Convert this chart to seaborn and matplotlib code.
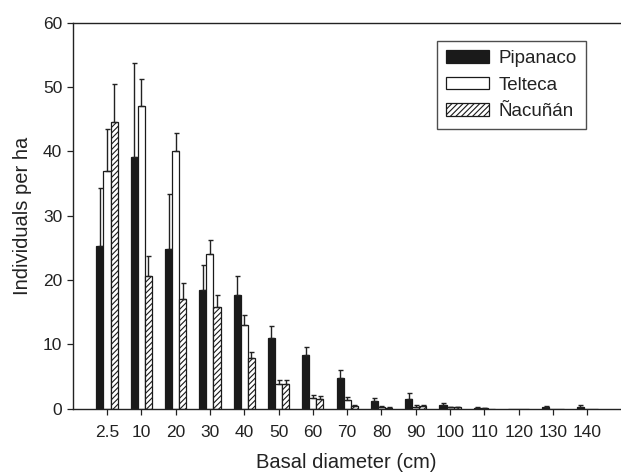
import numpy as np
import pandas as pd
import matplotlib
matplotlib.use("Agg")
import matplotlib.pyplot as plt
import seaborn as sns

# Diameter classes (cm)
categories = ['2.5', '10', '20', '30', '40', '50', '60', '70', '80', '90',
              '100', '110', '120', '130', '140']

# Individuals per ha by site (mean) and upper error
pipanaco = [25.3, 39.1, 24.8, 18.4, 17.6, 11.0, 8.3, 4.8, 1.2, 1.55, 0.5, 0.1, 0.0, 0.3, 0.3]
pipanaco_err = [9.0, 14.7, 8.6, 3.9, 3.1, 1.8, 1.3, 1.2, 0.5, 0.85, 0.4, 0.1, 0.0, 0.1, 0.3]
telteca = [37.0, 47.0, 40.0, 24.1, 13.0, 3.8, 1.7, 1.35, 0.3, 0.3, 0.2, 0.1, 0.0, 0.0, 0.0]
telteca_err = [6.5, 4.2, 2.8, 2.1, 1.5, 0.7, 0.5, 0.45, 0.1, 0.2, 0.1, 0.05, 0.0, 0.0, 0.0]
nacunan = [44.5, 20.7, 17.1, 15.8, 7.9, 3.8, 1.55, 0.4, 0.15, 0.4, 0.2, 0.0, 0.0, 0.0, 0.0]
nacunan_err = [6.0, 3.1, 2.5, 1.8, 0.9, 0.7, 0.45, 0.2, 0.05, 0.2, 0.05, 0.0, 0.0, 0.0, 0.0]

sites = ['Pipanaco', 'Telteca', 'Ñacuñán']

df = pd.DataFrame({
    'diameter': categories * 3,
    'site': np.repeat(sites, len(categories)),
    'value': pipanaco + telteca + nacunan,
})

sns.set_theme(style="ticks")
plt.rcParams['font.family'] = ['Liberation Sans', 'DejaVu Sans']
plt.rcParams['hatch.linewidth'] = 0.8
plt.rcParams['text.color'] = '#222222'
plt.rcParams['axes.labelcolor'] = '#222222'
plt.rcParams['xtick.color'] = '#222222'
plt.rcParams['ytick.color'] = '#222222'

fig = plt.figure(figsize=(6.21, 4.74), dpi=100)
ax = fig.add_axes([0.117, 0.1378, 0.8813, 0.8143])

sns.barplot(data=df, x='diameter', y='value', hue='site', order=categories,
            hue_order=sites, palette=['#1a1a1a', 'white', 'white'],
            width=0.62, gap=0, errorbar=None, edgecolor='#1a1a1a',
            linewidth=0.9, legend=False, ax=ax)

bars = list(ax.containers)
for p in bars[2].patches:
    p.set_hatch('//////')

# one-sided (upper) error bars on each bar
for cont, errs in zip(bars, [pipanaco_err, telteca_err, nacunan_err]):
    for p, e in zip(cont.patches, errs):
        h = p.get_height()
        if h <= 0 and e <= 0:
            continue
        xc = p.get_x() + p.get_width() / 2
        ax.errorbar(xc, h, yerr=[[0], [e]], fmt='none', ecolor='#222222',
                    elinewidth=1.0, capsize=1.8, capthick=1.0, zorder=3)

ax.set_xlim(-1.0, 14.95)
ax.set_ylim(0, 60)
ax.set_yticks(range(0, 61, 10))
ax.set_xlabel('Basal diameter (cm)', fontsize=14.5, labelpad=9)
ax.set_ylabel('Individuals per ha', fontsize=14.5, labelpad=8)
ax.tick_params(axis='both', labelsize=12.5, direction='out', length=4,
               width=0.9)
ax.tick_params(axis='x', pad=8)
for s in ['left', 'bottom', 'top']:
    ax.spines[s].set_linewidth(1.0)
    ax.spines[s].set_color('#222222')
ax.spines['right'].set_visible(False)

leg = ax.legend(bars, sites, loc='upper right', bbox_to_anchor=(0.938, 0.953),
                borderaxespad=0, fontsize=13.5, frameon=True, fancybox=False,
                handlelength=2.3, handleheight=0.65, handletextpad=0.5,
                labelspacing=0.5, borderpad=0.5)
leg.get_frame().set_edgecolor('#222222')
leg.get_frame().set_linewidth(1.0)

fig.savefig('out.png', dpi=100)
